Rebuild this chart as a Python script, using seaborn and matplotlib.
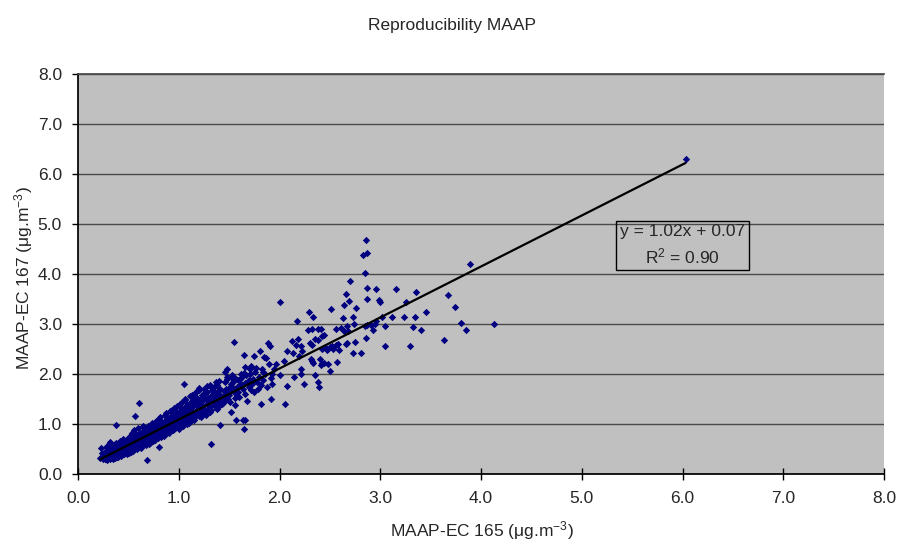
import numpy as np
import pandas as pd
import matplotlib
matplotlib.use("Agg")
import matplotlib.pyplot as plt
import seaborn as sns

# ---------------- data ----------------
# dense cloud, grouped in narrow x strips: x values and matching y values
dense_x = [
    [0.23, 0.22],
    [0.25, 0.26, 0.24, 0.27],
    [0.28, 0.29, 0.27, 0.30, 0.28],
    [0.30, 0.31, 0.29, 0.32, 0.30, 0.31],
    [0.33, 0.34, 0.32, 0.35, 0.33, 0.34, 0.32],
    [0.36, 0.37, 0.35, 0.36, 0.38, 0.37, 0.35],
    [0.38, 0.39, 0.40, 0.38, 0.39, 0.40],
    [0.41, 0.40, 0.42, 0.41, 0.43, 0.40, 0.42],
    [0.43, 0.44, 0.42, 0.45, 0.43, 0.44, 0.46, 0.44],
    [0.46, 0.45, 0.47, 0.46, 0.45, 0.47, 0.48],
    [0.48, 0.49, 0.47, 0.50, 0.48, 0.49, 0.51, 0.47],
    [0.51, 0.50, 0.52, 0.51, 0.53, 0.50, 0.52, 0.53],
    [0.53, 0.54, 0.55, 0.53, 0.54, 0.56, 0.55, 0.54],
    [0.56, 0.57, 0.55, 0.58, 0.56, 0.57, 0.55],
    [0.57, 0.59, 0.58, 0.60, 0.59, 0.58, 0.60, 0.59],
    [0.61, 0.62, 0.60, 0.63, 0.61, 0.62, 0.63, 0.60],
    [0.61],
    [0.64, 0.63, 0.65, 0.64, 0.66, 0.63, 0.65, 0.66],
    [0.66, 0.67, 0.68, 0.66, 0.67, 0.68, 0.69],
    [0.69, 0.70, 0.68, 0.71, 0.69, 0.70, 0.71, 0.68],
    [0.71, 0.72, 0.73, 0.71, 0.72, 0.73, 0.74, 0.72],
    [0.74, 0.75, 0.73, 0.76, 0.74, 0.75, 0.76],
    [0.76, 0.77, 0.78, 0.76, 0.77, 0.78, 0.79, 0.77],
    [0.79, 0.80, 0.78, 0.81, 0.79, 0.80, 0.81],
    [0.80, 0.82, 0.81, 0.83, 0.82, 0.83, 0.81, 0.84],
    [0.84, 0.85, 0.83, 0.86, 0.84, 0.85, 0.86, 0.84],
    [0.86, 0.87, 0.88, 0.86, 0.87, 0.88, 0.89],
    [0.89, 0.90, 0.88, 0.91, 0.89, 0.90, 0.91],
    [0.91, 0.92, 0.93, 0.91, 0.92, 0.93, 0.94, 0.92],
    [0.94, 0.95, 0.93, 0.96, 0.94, 0.95, 0.96],
    [0.96, 0.97, 0.98, 0.96, 0.97, 0.98, 0.99],
    [0.99, 1.00, 0.98, 1.01, 0.99, 1.00, 1.01],
    [1.01, 1.02, 1.03, 1.01, 1.02, 1.03, 1.04, 1.02],
    [1.04, 1.05, 1.03, 1.06, 1.04, 1.05, 1.06],
    [1.05, 1.07, 1.06, 1.08, 1.07, 1.08, 1.06],
    [1.09, 1.10, 1.08, 1.11, 1.09, 1.10, 1.11],
    [1.11, 1.12, 1.13, 1.11, 1.12, 1.13, 1.14],
    [1.14, 1.15, 1.13, 1.16, 1.14, 1.15, 1.16],
    [1.16, 1.17, 1.18, 1.16, 1.17, 1.18],
    [1.19, 1.20, 1.18, 1.21, 1.19, 1.20],
    [1.20, 1.21, 1.22, 1.21, 1.23, 1.22, 1.21],
    [1.24, 1.25, 1.23, 1.26, 1.24, 1.25],
    [1.26, 1.27, 1.28, 1.26, 1.27, 1.28],
    [1.29, 1.30, 1.28, 1.31, 1.29, 1.30],
    [1.31, 1.32, 1.33, 1.31, 1.32, 1.33],
    [1.32, 1.34, 1.35, 1.33, 1.34],
    [1.36, 1.37, 1.35, 1.38, 1.36, 1.37],
    [1.38, 1.39, 1.40, 1.38, 1.39],
    [1.41, 1.42, 1.40, 1.43, 1.41, 1.42],
    [1.41],
    [1.44, 1.45, 1.43, 1.46, 1.44],
    [1.46, 1.47, 1.46, 1.48, 1.47],
    [1.49, 1.50, 1.48, 1.48, 1.49],
    [1.51, 1.52, 1.50, 1.53, 1.51],
    [1.52, 1.53, 1.54, 1.52],
    [1.55, 1.56, 1.54, 1.57, 1.55, 1.56],
    [1.56],
    [1.57, 1.58, 1.59],
    [1.60, 1.61, 1.59, 1.62, 1.60],
    [1.62, 1.63, 1.64],
    [1.64],
    [1.65, 1.65, 1.65, 1.66, 1.67, 1.66],
    [1.66, 1.66],
    [1.68, 1.69, 1.70],
    [1.70, 1.71, 1.72, 1.71],
    [1.72, 1.73],
    [1.75, 1.74, 1.76, 1.75],
    [1.78, 1.77, 1.79],
    [1.81, 1.80, 1.82],
    [1.83, 1.82, 1.84],
    [1.85, 1.86, 1.84],
    [1.87, 1.88],
    [1.89, 1.90],
    [1.91, 1.92, 1.92],
    [1.93, 1.93],
    [1.95],
    [1.97],
]
dense_y = [
    [0.52, 0.33],
    [0.30, 0.36, 0.42, 0.31],
    [0.34, 0.28, 0.45, 0.40, 0.55],
    [0.33, 0.38, 0.47, 0.30, 0.52, 0.60],
    [0.36, 0.42, 0.50, 0.31, 0.45, 0.58, 0.65],
    [0.41, 0.33, 0.56, 0.45, 0.37, 0.60, 0.50],
    [0.99, 0.49, 0.40, 0.62, 0.35, 0.53],
    [0.47, 0.39, 0.66, 0.43, 0.55, 0.35, 0.60],
    [0.58, 0.41, 0.49, 0.68, 0.37, 0.53, 0.45, 0.62],
    [0.43, 0.71, 0.52, 0.40, 0.64, 0.47, 0.57],
    [0.61, 0.44, 0.55, 0.73, 0.49, 0.40, 0.67, 0.52],
    [0.48, 0.69, 0.57, 0.42, 0.79, 0.53, 0.63, 0.46],
    [0.66, 0.51, 0.58, 0.45, 0.83, 0.71, 0.55, 0.62],
    [0.50, 0.76, 0.61, 0.55, 0.88, 0.67, 0.47],
    [1.17, 0.72, 0.56, 0.64, 0.51, 0.80, 0.60, 0.68],
    [0.59, 0.82, 0.66, 0.53, 0.75, 0.62, 0.71, 0.93],
    [1.43],
    [0.72, 0.58, 0.87, 0.64, 0.78, 0.55, 0.96, 0.68],
    [0.63, 0.81, 0.70, 0.92, 0.59, 0.75, 0.66],
    [0.78, 0.64, 0.85, 0.70, 0.97, 0.61, 0.74, 0.29],
    [0.68, 0.88, 0.75, 0.63, 0.81, 1.02, 0.71, 0.93],
    [0.84, 0.70, 0.91, 0.77, 0.66, 0.99, 0.73],
    [0.74, 0.95, 0.81, 0.69, 1.06, 0.87, 0.78, 0.90],
    [0.89, 0.76, 0.98, 0.83, 0.72, 1.10, 0.80],
    [0.55, 0.79, 1.01, 0.88, 0.75, 0.94, 1.14, 0.84],
    [0.93, 0.80, 1.05, 0.87, 0.97, 0.77, 1.18, 0.90],
    [0.85, 1.08, 0.94, 0.81, 1.22, 0.98, 0.90],
    [0.98, 0.86, 1.12, 0.92, 1.02, 0.83, 1.26],
    [0.90, 1.15, 1.01, 0.87, 1.06, 1.29, 0.95, 1.10],
    [1.04, 0.91, 1.18, 0.98, 0.88, 1.33, 1.09],
    [0.97, 1.21, 1.06, 0.92, 1.13, 1.37, 1.01],
    [1.10, 0.95, 1.24, 1.03, 1.16, 0.91, 1.41],
    [1.00, 1.27, 1.12, 0.96, 1.19, 1.44, 1.07, 1.33],
    [1.14, 1.02, 1.31, 1.08, 0.97, 1.23, 1.48],
    [1.80, 1.06, 1.26, 1.15, 1.36, 1.01, 1.51],
    [1.20, 1.08, 1.39, 1.13, 1.29, 1.03, 1.56],
    [1.11, 1.33, 1.22, 1.42, 1.06, 1.59, 1.17],
    [1.25, 1.12, 1.46, 1.19, 1.36, 1.09, 1.63],
    [1.16, 1.40, 1.28, 1.50, 1.22, 1.66],
    [1.30, 1.17, 1.52, 1.24, 1.43, 1.69],
    [1.73, 1.21, 1.46, 1.33, 1.58, 1.14, 1.38],
    [1.36, 1.23, 1.55, 1.29, 1.48, 1.71],
    [1.27, 1.50, 1.40, 1.62, 1.19, 1.76],
    [1.42, 1.31, 1.65, 1.24, 1.53, 1.36],
    [1.34, 1.57, 1.46, 1.79, 1.28, 1.68],
    [0.60, 1.49, 1.38, 1.72, 1.60],
    [1.53, 1.41, 1.75, 1.31, 1.63, 1.84],
    [1.45, 1.66, 1.37, 1.78, 1.56],
    [1.59, 1.47, 1.86, 1.41, 1.70, 1.52],
    [0.99],
    [1.55, 1.66, 1.52, 1.84, 1.42],
    [1.58, 1.70, 2.05, 1.90, 1.48],
    [1.61, 1.73, 2.11, 1.95, 1.50],
    [1.64, 1.76, 1.58, 1.92, 1.45],
    [1.25, 1.98, 1.68, 1.80],
    [2.65, 1.70, 1.84, 1.60, 1.95, 1.52],
    [1.38],
    [1.09, 1.74, 1.88],
    [1.76, 1.90, 1.65, 2.00, 1.55],
    [1.80, 1.95, 1.70],
    [1.09],
    [2.38, 2.03, 0.90, 1.82, 1.98, 1.60],
    [2.15, 1.08],
    [1.46, 1.85, 1.75],
    [1.88, 2.00, 1.68, 2.10],
    [2.17, 1.80],
    [2.36, 1.90, 2.05, 1.65],
    [1.85, 2.12, 1.70],
    [2.46, 1.95, 1.78],
    [2.10, 1.41, 1.88],
    [2.34, 2.00, 2.05],
    [2.33, 1.75],
    [2.62, 2.20],
    [2.57, 1.92, 1.51],
    [2.01, 1.81],
    [2.10],
    [2.20],
]

sparse_x = [2.86, 2.83, 2.87, 2.85, 2.70, 2.87, 2.96, 3.16, 3.35, 3.89, 3.67, 3.74,
            3.80, 3.85, 3.63, 3.30, 3.05, 3.40, 3.33, 3.34, 3.24, 3.45, 3.12, 3.05,
            3.26, 2.99, 3.00, 2.87, 3.02, 2.96, 2.95, 2.93, 2.91, 2.87, 2.85, 2.86,
            2.81, 2.73, 2.75, 2.66, 2.69, 2.64, 2.76, 2.73, 2.63, 2.51, 2.29, 2.33,
            2.17, 2.00, 2.28, 2.32, 2.38, 2.41, 2.56, 2.61, 2.64, 2.68, 2.67, 2.74,
            2.42, 2.44, 2.35, 2.30, 2.32, 2.12, 2.18, 2.16, 2.21, 2.22, 2.07, 2.04,
            2.13, 2.19, 2.31, 2.32, 2.33, 2.40, 2.42, 2.41, 2.44, 2.38, 2.42, 2.46,
            2.47, 2.50, 2.52, 2.53, 2.56, 2.58, 2.59, 2.66, 2.67, 2.57, 2.50, 2.48,
            2.35, 2.38, 2.39, 2.21, 2.21, 2.14, 2.24, 2.07, 2.05, 2.00, 4.13, 6.03]
sparse_y = [4.68, 4.39, 4.43, 4.03, 3.87, 3.73, 3.70, 3.70, 3.65, 4.21, 3.59, 3.34,
            3.03, 2.88, 2.68, 2.57, 2.57, 2.88, 2.95, 3.15, 3.15, 3.24, 3.15, 2.97,
            3.45, 3.49, 3.45, 3.51, 3.15, 3.06, 3.00, 2.88, 2.99, 2.99, 2.96, 2.73,
            2.43, 2.43, 2.64, 3.60, 3.47, 3.39, 3.32, 3.15, 3.13, 3.30, 3.25, 3.15,
            3.07, 3.45, 2.88, 2.90, 2.91, 2.90, 2.90, 2.93, 2.87, 2.86, 2.97, 3.00,
            2.77, 2.78, 2.71, 2.63, 2.59, 2.66, 2.71, 2.59, 2.57, 2.47, 2.47, 2.27,
            2.42, 2.37, 2.31, 2.27, 2.23, 2.31, 2.22, 2.19, 2.23, 2.68, 2.51, 2.53,
            2.49, 2.54, 2.57, 2.51, 2.58, 2.60, 2.48, 2.61, 2.63, 2.25, 2.07, 2.21,
            1.99, 1.85, 1.74, 2.10, 2.00, 1.94, 1.81, 1.77, 1.40, 1.99, 3.00, 6.31]

fit_slope = 1.02
fit_intercept = 0.07
fit_r2 = 0.90

title_text = "Reproducibility MAAP"
xlabel_text = "MAAP-EC 165 ($\\mathregular{\\mu}$g.m$^{-3}$)"
ylabel_text = "MAAP-EC 167 ($\\mathregular{\\mu}$g.m$^{-3}$)"
ticks = [0.0, 1.0, 2.0, 3.0, 4.0, 5.0, 6.0, 7.0, 8.0]

# ---------------- build table ----------------
xs, ys = [], []
for cx, cy in zip(dense_x, dense_y):
    xs.extend(cx)
    ys.extend(cy)
xs += sparse_x
ys += sparse_y
df = pd.DataFrame({"ec165": xs, "ec167": ys})

line_x = np.array([df.ec165.min(), df.ec165.max()])
line_df = pd.DataFrame({"x": line_x, "y": fit_slope * line_x + fit_intercept})

# ---------------- plot ----------------
sns.set_theme(style="white")
plt.rcParams["font.family"] = ["Liberation Sans", "DejaVu Sans"]
plt.rcParams["mathtext.fontset"] = "custom"
plt.rcParams["mathtext.rm"] = "Liberation Sans"
plt.rcParams["mathtext.it"] = "Liberation Sans"

FS = 12.5

fig = plt.figure(figsize=(8.99, 5.41), dpi=100)
ax = fig.add_axes([78 / 899, 1 - 474 / 541, 806 / 899, 400 / 541])
ax.set_facecolor("#C0C0C0")

sns.scatterplot(data=df, x="ec165", y="ec167", marker="D", s=14, color="#000080",
                linewidth=0, ax=ax, zorder=3)
sns.lineplot(data=line_df, x="x", y="y", color="black", linewidth=1.6, ax=ax, zorder=4)

ax.set_xlim(0, 8)
ax.set_ylim(0, 8)
ax.set_xticks(ticks)
ax.set_yticks(ticks)
ax.set_xticklabels([f"{t:.1f}" for t in ticks], fontsize=FS)
ax.set_yticklabels([f"{t:.1f}" for t in ticks], fontsize=FS)
ax.yaxis.grid(True, color="#4a4a4a", linewidth=1.0)
ax.xaxis.grid(False)
ax.set_axisbelow(True)
ax.tick_params(axis="x", direction="inout", length=9, width=1, color="black",
               bottom=True, pad=8)
ax.tick_params(axis="y", direction="out", length=4, width=1, color="black",
               left=True, pad=7.5)

ax.spines["right"].set_visible(False)
ax.spines["top"].set_color("#4a4a4a")
ax.spines["left"].set_color("black")
ax.spines["bottom"].set_color("black")

ax.set_xlabel("")
ax.set_ylabel("")
fig.text(481.5 / 899, 1 - 536 / 541, xlabel_text, ha="center", va="baseline", fontsize=FS)
fig.text(29.5 / 899, 1 - 278 / 541, ylabel_text, ha="center", va="baseline",
         rotation=90, rotation_mode="anchor", fontsize=FS)
fig.text(451.5 / 899, 1 - 30 / 541, title_text, ha="center", va="baseline", fontsize=FS)

ax.text(6.0, 4.57, f"y = {fit_slope:.2f}x + {fit_intercept:.2f}\nR$^2$ = {fit_r2:.2f}",
        ha="center", va="center", fontsize=FS, linespacing=1.45,
        bbox=dict(boxstyle="square,pad=0.2", facecolor="none", edgecolor="black",
                  linewidth=1.0), zorder=5)

fig.savefig("out.png", dpi=100)
